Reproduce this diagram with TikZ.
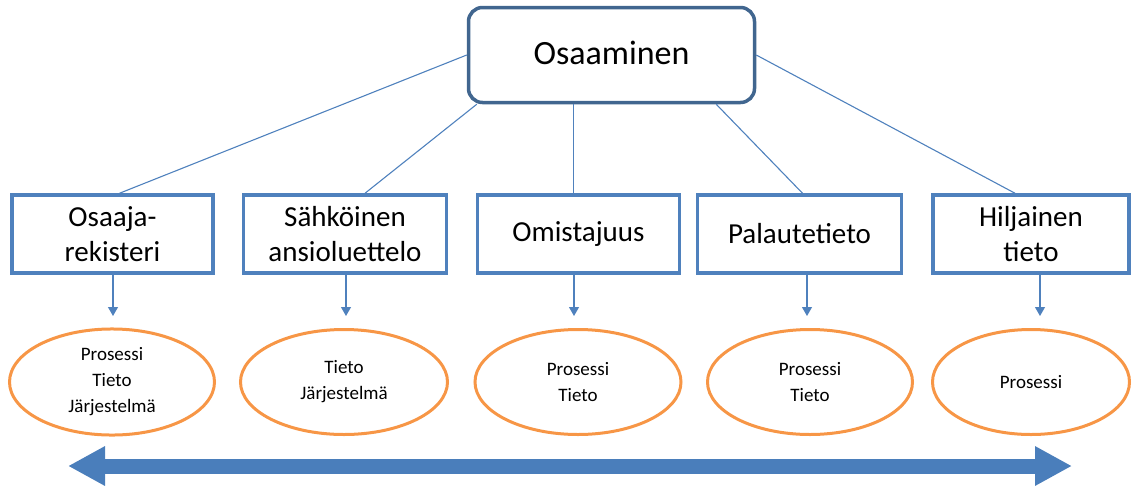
\documentclass[tikz,border=0pt]{standalone}
\usepackage{fontspec}
\setmainfont{Carlito}
\usepackage{xcolor}
\usetikzlibrary{arrows.meta,positioning,calc,shapes.geometric}
\definecolor{boxblue}{HTML}{4F81BD}
\definecolor{topblue}{HTML}{41668F}
\definecolor{ovalorange}{HTML}{F79646}
\definecolor{bigarrow}{HTML}{4A7EBB}
\begin{document}
\begin{tikzpicture}[x=1pt,y=-1pt,
  topbox/.style={rectangle,rounded corners=14pt,draw=topblue,line width=3.5pt,
    minimum width=286pt,minimum height=95pt,font=\fontsize{34}{40}\selectfont},
  aihe/.style={rectangle,draw=boxblue,line width=3.5pt,minimum height=78pt,
    align=center,font=\fontsize{29}{35}\selectfont},
  oval/.style={ellipse,draw=ovalorange,line width=3pt,minimum width=205pt,
    minimum height=105pt,align=center,font=\fontsize{19}{26}\selectfont},
  haara/.style={draw=boxblue,line width=1.1pt},
  nuoli/.style={draw=boxblue,line width=1.1pt,-{Triangle[length=9pt,width=10pt]}}]
  \useasboundingbox (0,0) rectangle (1132,485);
  \node[topbox] (osa) at (611.5,55) {\raisebox{5pt}{Osaaminen}};
  \node[aihe,minimum width=201pt] (b1) at (112.5,234) {Osaaja-\\rekisteri};
  \node[aihe,minimum width=203pt] (b2) at (345,234) {Sähköinen\\ansioluettelo};
  \node[aihe,minimum width=202pt] (b3) at (578.5,234) {Omistajuus};
  \node[aihe,minimum width=204pt] (b4) at (799.5,234) {Palautetieto};
  \node[aihe,minimum width=196pt] (b5) at (1031,234) {Hiljainen\\tieto};
  \node[oval] (e1) at (112,382) {Prosessi\\Tieto\\Järjestelmä};
  \node[oval,minimum width=207pt] (e2) at (344,382) {Tieto\\Järjestelmä};
  \node[oval,minimum width=206pt] (e3) at (578,382) {Prosessi\\Tieto};
  \node[oval] (e4) at (810,382) {Prosessi\\Tieto};
  \node[oval,minimum width=197pt] (e5) at (1031,382) {Prosessi};
  \draw[haara] (osa.west) -- ($(b1.north)+(7,0)$);
  \draw[haara] ($(osa.south west)+(10,0)$) -- ($(b2.north)+(20,0)$);
  \draw[haara] ($(osa.south)+(-38,0)$) -- ($(b3.north)+(-5,0)$);
  \draw[haara] ($(osa.south east)+(-40,0)$) -- ($(b4.north)+(3,0)$);
  \draw[haara] (osa.east) -- ($(b5.north)+(-16,0)$);
  \foreach \i/\x in {1/113,2/346,3/574,4/807,5/1040}
    \draw[nuoli] (\x,275) -- (\x,316);
  \coordinate (vasen) at (68,466);
  \coordinate (oikea) at (1072,466);
  \draw[bigarrow,line width=15pt,{Triangle[length=37pt,width=37pt]}-{Triangle[length=37pt,width=37pt]}]
    (vasen) -- (oikea);
\end{tikzpicture}
\end{document}
